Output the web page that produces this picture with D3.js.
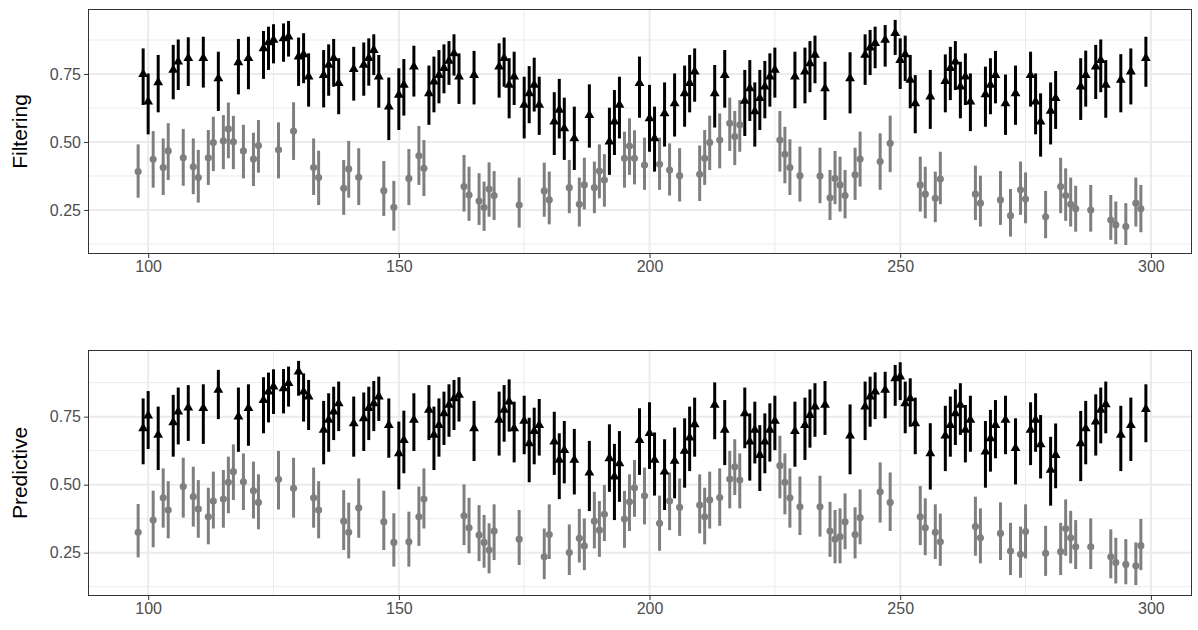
<!DOCTYPE html>
<html>
<head>
<meta charset="utf-8">
<script src="https://cdn.jsdelivr.net/npm/d3@7"></script>
<style>
  body { margin: 0; background: #fff; }
  text { font-family: "Liberation Sans", Arial, sans-serif; }
</style>
</head>
<body>
<div id="chart"></div>
<script>
// time runs 98..299, one observation per step
const firstTime = 98;

// 1 = black triangle series, 0 = grey circle series
const observed = [
  0, 1,
  1, 0, 1, 0, 0, 1, 1, 0, 1, 0,
  0, 1, 0, 0, 1, 0, 0, 0, 1, 0,
  1, 0, 0, 1, 1, 1, 0, 1, 1, 0,
  1, 1, 1, 0, 0, 1, 1, 1, 1, 0,
  0, 1, 0, 1, 1, 1, 1, 0, 1, 0,
  1, 1, 0, 1, 0, 0, 1, 1, 1, 1,
  1, 1, 1, 0, 0, 1, 0, 0, 0, 0,
  1, 1, 1, 1, 0, 1, 1, 1, 1, 0,
  0, 1, 1, 1, 0, 1, 0, 0, 1, 0,
  0, 0, 1, 1, 1, 0, 0, 0, 1, 0,
  1, 1, 0, 1, 0, 1, 0, 1, 1, 1,
  0, 0, 0, 1, 0, 1, 0, 0, 0, 1,
  1, 1, 1, 1, 1, 1, 0, 0, 0, 1,
  0, 1, 1, 1, 0, 1, 0, 0, 0, 0,
  1, 0, 0, 1, 1, 1, 0, 1, 0, 1,
  1, 1, 1, 1, 0, 0, 1, 0, 0, 1,
  1, 1, 1, 1, 1, 0, 0, 1, 1, 1,
  0, 1, 0, 1, 0, 0, 1, 1, 1, 0,
  1, 1, 0, 0, 0, 0, 1, 1, 0, 1,
  1, 1, 0, 0, 1, 0, 1, 0, 0, 1
];

const filtEst = [
  .391, .749,
  .648, .436, .719, .406, .467, .765, .795, .442, .808, .409,
  .369, .808, .442, .498, .734, .504, .548, .501, .793, .467,
  .808, .437, .487, .844, .866, .875, .471, .881, .887, .540,
  .814, .822, .740, .406, .369, .746, .783, .808, .716, .330,
  .401, .768, .370, .783, .808, .838, .740, .321, .630, .260,
  .673, .710, .366, .777, .449, .403, .679, .722, .746, .771,
  .798, .826, .740, .336, .305, .746, .283, .259, .327, .303,
  .777, .808, .710, .740, .268, .636, .679, .710, .636, .320,
  .287, .575, .618, .550, .332, .513, .271, .342, .599, .332,
  .393, .360, .501, .575, .636, .440, .485, .440, .716, .415,
  .587, .513, .418, .605, .397, .642, .376, .679, .716, .759,
  .381, .440, .498, .679, .507, .746, .569, .520, .563, .651,
  .697, .612, .661, .703, .740, .765, .507, .455, .406, .740,
  .376, .759, .789, .820, .375, .697, .295, .366, .342, .303,
  .734, .379, .437, .820, .847, .863, .428, .875, .495, .900,
  .801, .822, .728, .642, .342, .308, .667, .293, .364, .724,
  .771, .795, .703, .740, .648, .308, .275, .675, .710, .746,
  .287, .642, .229, .679, .324, .290, .746, .648, .575, .225,
  .614, .661, .336, .303, .271, .254, .703, .746, .250, .777,
  .801, .710, .213, .195, .728, .189, .759, .275, .254, .808
];
const filtLo = [
  .295, .636,
  .528, .332, .609, .305, .360, .657, .691, .339, .706, .308,
  .277, .700, .342, .393, .614, .400, .440, .400, .675, .366,
  .694, .338, .387, .732, .765, .789, .366, .795, .814, .434,
  .706, .716, .630, .305, .268, .627, .670, .703, .602, .232,
  .295, .652, .268, .670, .707, .746, .626, .228, .507, .174,
  .544, .597, .268, .667, .342, .301, .563, .609, .642, .679,
  .710, .744, .640, .244, .210, .638, .195, .173, .225, .213,
  .663, .703, .587, .636, .185, .513, .569, .612, .526, .225,
  .197, .452, .513, .434, .238, .397, .189, .252, .479, .238,
  .293, .262, .379, .452, .513, .332, .379, .344, .589, .324,
  .464, .391, .324, .483, .303, .520, .281, .556, .609, .648,
  .283, .342, .397, .553, .403, .626, .467, .415, .464, .522,
  .577, .483, .544, .587, .630, .663, .391, .348, .305, .624,
  .281, .642, .683, .716, .275, .581, .213, .271, .244, .219,
  .605, .287, .336, .710, .746, .771, .324, .777, .389, .820,
  .695, .724, .624, .532, .244, .219, .548, .205, .271, .609,
  .654, .691, .587, .636, .540, .213, .189, .556, .602, .642,
  .195, .526, .152, .563, .232, .201, .630, .528, .446, .146,
  .491, .548, .238, .210, .189, .170, .581, .630, .170, .658,
  .683, .589, .140, .124, .609, .121, .638, .189, .168, .703
];
const filtHi = [
  .491, .844,
  .752, .540, .820, .513, .569, .857, .877, .548, .885, .513,
  .471, .887, .544, .593, .832, .599, .645, .596, .879, .563,
  .887, .534, .581, .908, .924, .933, .572, .936, .945, .646,
  .884, .900, .826, .513, .468, .838, .859, .879, .808, .434,
  .504, .850, .477, .866, .881, .896, .820, .430, .737, .357,
  .771, .805, .474, .854, .559, .507, .781, .814, .838, .859,
  .871, .896, .826, .452, .409, .835, .385, .354, .425, .393,
  .863, .884, .808, .832, .369, .740, .779, .810, .740, .424,
  .391, .683, .732, .663, .434, .630, .369, .442, .712, .428,
  .491, .455, .626, .691, .740, .538, .587, .543, .814, .516,
  .710, .630, .516, .719, .495, .752, .477, .781, .820, .844,
  .487, .544, .597, .783, .605, .838, .663, .614, .654, .765,
  .801, .719, .765, .798, .826, .847, .614, .556, .510, .832,
  .483, .847, .871, .891, .479, .795, .397, .467, .446, .397,
  .830, .479, .538, .896, .912, .924, .532, .930, .597, .949,
  .881, .891, .820, .746, .446, .409, .765, .391, .464, .822,
  .850, .871, .795, .826, .752, .413, .376, .777, .808, .835,
  .393, .748, .327, .781, .428, .388, .832, .752, .679, .320,
  .719, .761, .442, .403, .369, .339, .808, .836, .342, .857,
  .877, .801, .305, .281, .823, .275, .844, .369, .342, .887
];

const predEst = [
  .325, .707,
  .754, .370, .683, .452, .407, .729, .768, .493, .783, .456,
  .411, .781, .382, .440, .848, .447, .509, .548, .750, .511,
  .781, .478, .435, .811, .842, .860, .520, .854, .873, .487,
  .915, .842, .824, .452, .407, .701, .738, .768, .799, .366,
  .325, .725, .415, .744, .781, .799, .824, .364, .719, .288,
  .615, .664, .290, .738, .382, .447, .775, .683, .719, .762,
  .793, .817, .830, .386, .342, .707, .315, .288, .260, .330,
  .738, .775, .805, .707, .300, .734, .652, .697, .719, .235,
  .317, .658, .591, .627, .251, .591, .303, .275, .544, .366,
  .333, .391, .597, .530, .578, .374, .437, .489, .664, .459,
  .689, .591, .358, .548, .440, .587, .417, .624, .673, .722,
  .425, .382, .444, .793, .453, .701, .521, .566, .517, .762,
  .658, .701, .609, .658, .701, .734, .570, .509, .452, .697,
  .419, .719, .756, .787, .419, .793, .330, .300, .309, .364,
  .680, .317, .379, .787, .824, .842, .474, .848, .435, .891,
  .897, .799, .817, .725, .382, .342, .615, .325, .290, .680,
  .719, .762, .793, .701, .738, .346, .305, .621, .670, .719,
  .321, .738, .256, .634, .244, .328, .701, .738, .648, .248,
  .554, .609, .254, .339, .305, .272, .652, .707, .272, .732,
  .775, .795, .235, .214, .683, .207, .719, .202, .276, .778
];
const predLo = [
  .233, .575,
  .631, .270, .554, .342, .303, .603, .648, .379, .661, .346,
  .305, .650, .281, .339, .741, .342, .395, .444, .621, .407,
  .643, .376, .336, .689, .729, .760, .409, .762, .787, .379,
  .827, .732, .701, .342, .303, .575, .621, .664, .697, .260,
  .229, .603, .305, .624, .664, .697, .734, .260, .599, .199,
  .483, .542, .199, .624, .275, .339, .664, .554, .603, .646,
  .676, .701, .732, .278, .248, .587, .219, .195, .174, .223,
  .607, .658, .695, .582, .205, .612, .509, .575, .607, .153,
  .227, .536, .447, .505, .168, .464, .214, .186, .403, .266,
  .235, .293, .474, .370, .437, .268, .330, .382, .536, .354,
  .558, .460, .257, .407, .333, .450, .312, .489, .550, .603,
  .321, .281, .339, .667, .349, .572, .413, .462, .413, .634,
  .515, .578, .477, .542, .585, .627, .450, .391, .342, .566,
  .315, .591, .636, .676, .309, .683, .235, .211, .211, .263,
  .538, .229, .281, .664, .713, .741, .361, .744, .330, .790,
  .811, .689, .713, .612, .278, .241, .482, .227, .202, .550,
  .603, .646, .683, .582, .621, .239, .211, .489, .548, .597,
  .223, .612, .168, .501, .158, .229, .572, .621, .523, .165,
  .423, .487, .168, .239, .211, .190, .513, .575, .190, .607,
  .652, .689, .156, .137, .550, .134, .587, .131, .186, .656
];
const predHi = [
  .429, .817,
  .844, .478, .787, .560, .513, .830, .857, .599, .866, .566,
  .517, .869, .489, .548, .922, .554, .603, .648, .857, .615,
  .869, .585, .538, .895, .912, .924, .624, .925, .934, .599,
  .955, .909, .885, .563, .513, .808, .836, .860, .879, .480,
  .434, .824, .523, .839, .860, .881, .897, .478, .817, .395,
  .732, .772, .401, .836, .493, .560, .866, .787, .817, .842,
  .869, .885, .895, .501, .452, .808, .425, .389, .358, .428,
  .842, .866, .887, .805, .407, .827, .746, .783, .815, .339,
  .428, .768, .689, .734, .354, .705, .411, .376, .661, .474,
  .440, .499, .722, .650, .697, .477, .538, .591, .781, .563,
  .803, .692, .460, .667, .545, .710, .523, .744, .787, .820,
  .538, .489, .548, .876, .560, .811, .624, .667, .615, .857,
  .762, .805, .719, .762, .799, .827, .680, .615, .560, .805,
  .530, .820, .850, .873, .533, .881, .437, .407, .413, .468,
  .795, .417, .483, .879, .897, .913, .582, .915, .545, .940,
  .950, .879, .891, .820, .495, .450, .726, .428, .394, .790,
  .824, .850, .873, .793, .827, .456, .413, .734, .775, .811,
  .435, .827, .360, .744, .346, .428, .803, .836, .756, .349,
  .676, .725, .360, .446, .404, .370, .771, .808, .376, .832,
  .857, .879, .336, .305, .790, .300, .820, .288, .374, .869
];

const panelTitles = ["Filtering", "Predictive"];
const xTicks = [100, 150, 200, 250, 300];
const xMinorTicks = [125, 175, 225, 275];
const yTicks = [0.25, 0.5, 0.75];
const yMinorTicks = [0.125, 0.375, 0.625, 0.875];

const width = 1198, height = 630;
const margin = { left: 88, right: 6 };

const svg = d3.select("#chart").append("svg")
  .attr("width", width)
  .attr("height", height);

const xScale = d3.scaleLinear()
  .domain([88, 308.2])
  .range([margin.left, width - margin.right]);

function makeRows(est, lo, hi) {
  return est.map((v, i) => ({
    t: firstTime + i,
    est: v,
    lo: lo[i],
    hi: hi[i],
    black: observed[i] === 1
  }));
}

function Panel(rows, title, top, bottom, yDomain) {
  const yScale = d3.scaleLinear().domain(yDomain).range([bottom, top]);
  const g = svg.append("g");

  // background grid
  g.append("g").selectAll("line.minor-y")
    .data(yMinorTicks)
    .join("line")
    .attr("x1", margin.left).attr("x2", width - margin.right)
    .attr("y1", d => yScale(d)).attr("y2", d => yScale(d))
    .attr("stroke", "#ebebeb").attr("stroke-width", 1);
  g.append("g").selectAll("line.minor-x")
    .data(xMinorTicks)
    .join("line")
    .attr("x1", d => xScale(d)).attr("x2", d => xScale(d))
    .attr("y1", top).attr("y2", bottom)
    .attr("stroke", "#ebebeb").attr("stroke-width", 1);
  g.append("g").selectAll("line.major-y")
    .data(yTicks)
    .join("line")
    .attr("x1", margin.left).attr("x2", width - margin.right)
    .attr("y1", d => yScale(d)).attr("y2", d => yScale(d))
    .attr("stroke", "#ebebeb").attr("stroke-width", 2);
  g.append("g").selectAll("line.major-x")
    .data(xTicks)
    .join("line")
    .attr("x1", d => xScale(d)).attr("x2", d => xScale(d))
    .attr("y1", top).attr("y2", bottom)
    .attr("stroke", "#ebebeb").attr("stroke-width", 2);

  // ranges first, then the points
  g.append("g").selectAll("line")
    .data(rows)
    .join("line")
    .attr("x1", d => xScale(d.t)).attr("x2", d => xScale(d.t))
    .attr("y1", d => yScale(d.lo)).attr("y2", d => yScale(d.hi))
    .attr("stroke", d => d.black ? "#000" : "#7f7f7f")
    .attr("stroke-width", 3);

  g.append("g").selectAll("path")
    .data(rows)
    .join("path")
    .attr("transform", d => `translate(${xScale(d.t)},${yScale(d.est)})`)
    .attr("d", d => d.black
      ? d3.symbol(d3.symbolTriangle, 42)()
      : d3.symbol(d3.symbolCircle, 40)())
    .attr("fill", d => d.black ? "#000" : "#7f7f7f");

  // panel border
  g.append("rect")
    .attr("x", margin.left + 0.5).attr("y", top + 0.5)
    .attr("width", width - margin.right - margin.left - 1)
    .attr("height", bottom - top - 1)
    .attr("fill", "none")
    .attr("stroke", "#333333").attr("stroke-width", 1);

  const xAxis = g.append("g")
    .attr("transform", `translate(0,${bottom})`)
    .call(d3.axisBottom(xScale).tickValues(xTicks).tickSize(4).tickSizeOuter(0).tickPadding(3));
  xAxis.select(".domain").remove();
  xAxis.selectAll("line").attr("stroke", "#333333");
  xAxis.selectAll("text").attr("fill", "#4d4d4d").attr("font-size", 16);

  const yAxis = g.append("g")
    .attr("transform", `translate(${margin.left},0)`)
    .call(d3.axisLeft(yScale).tickValues(yTicks).tickFormat(d3.format(".2f")).tickSize(4).tickPadding(3));
  yAxis.select(".domain").remove();
  yAxis.selectAll("line").attr("stroke", "#333333");
  yAxis.selectAll("text").attr("fill", "#4d4d4d").attr("font-size", 16);

  g.append("text")
    .attr("transform", `translate(27,${(top + bottom) / 2}) rotate(-90)`)
    .attr("text-anchor", "middle")
    .attr("font-size", 21)
    .attr("fill", "#000")
    .text(title);
}

Panel(makeRows(filtEst, filtLo, filtHi), panelTitles[0], 9, 254, [0.088, 0.989]);
Panel(makeRows(predEst, predLo, predHi), panelTitles[1], 350, 596, [0.091, 0.995]);
</script>
</body>
</html>
